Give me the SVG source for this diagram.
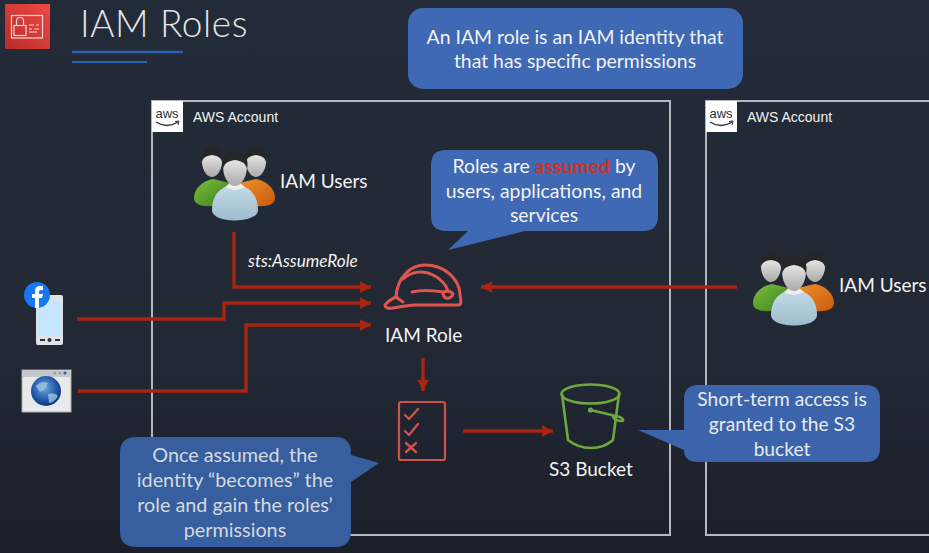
<svg xmlns="http://www.w3.org/2000/svg" xmlns:xlink="http://www.w3.org/1999/xlink" width="929" height="553" viewBox="0 0 929 553">
<style>
text{font-family:"Lato","Noto Sans","Liberation Sans",sans-serif;fill:#f2f2f2}
.t20{font-size:19px}
.call{font-size:19.400px;text-anchor:middle}
.acct{font-family:"Liberation Sans",Arial,sans-serif;font-size:14px}
.box{fill:none;stroke:#b4b8bd;stroke-width:2}
.bub{fill:#3f69b4}
.con{fill:none;stroke:#a92511;stroke-width:3.4}
.red{fill:none;stroke:#e0564f;stroke-width:3;stroke-linecap:round;stroke-linejoin:round}
.red2{fill:none;stroke:#d1504a;stroke-width:2.400;stroke-linecap:round;stroke-linejoin:round}
.grn{fill:none;stroke:#6fa73f;stroke-width:2.600;stroke-linecap:round;stroke-linejoin:round}
</style>
<defs>
<linearGradient id="bg" x1="0" y1="0" x2="0" y2="1"><stop offset="0" stop-color="#232b38"/><stop offset=".6" stop-color="#222935"/><stop offset="1" stop-color="#1b1f2a"/></linearGradient>
<linearGradient id="icon" x1="0" y1="1" x2="1" y2="0"><stop offset="0" stop-color="#b92b27"/><stop offset="1" stop-color="#ee4a45"/></linearGradient>
<linearGradient id="g" x1="0" y1="0" x2="1" y2="1"><stop offset="0" stop-color="#7fbf3a"/><stop offset="1" stop-color="#35801f"/></linearGradient>
<linearGradient id="o" x1="0" y1="0" x2="1" y2="1"><stop offset="0" stop-color="#f0902a"/><stop offset="1" stop-color="#c9590f"/></linearGradient>
<linearGradient id="b" x1="0" y1="0" x2="0" y2="1"><stop offset="0" stop-color="#c4dbe6"/><stop offset="1" stop-color="#9dbccd"/></linearGradient>
<linearGradient id="f" x1="0" y1="0" x2="0" y2="1"><stop offset="0" stop-color="#f6f6f6"/><stop offset="1" stop-color="#a9a9a9"/></linearGradient>
<radialGradient id="globe" cx=".45" cy=".4" r=".6"><stop offset="0" stop-color="#6fa6e0"/><stop offset=".7" stop-color="#1f55a8"/><stop offset="1" stop-color="#0f3478"/></radialGradient>
<marker id="arr" markerWidth="3.400" markerHeight="3.400" refX="3.900" refY="2" orient="auto" markerUnits="strokeWidth" viewBox="0 0 4 4"><path d="M0 0L4 2L0 4Z" fill="#a92511"/></marker>
<g id="aws">
<rect x="0" y="0" width="31" height="31" fill="#fff"/>
<text x="15" y="17" text-anchor="middle" style="font-family:'Liberation Sans',sans-serif;font-size:13px;fill:#232f3e">aws</text>
<path d="M4 21Q15 28 26 21" fill="none" stroke="#232f3e" stroke-width="1.300"/>
<path d="M23 20.500L27 20L26 24" fill="none" stroke="#232f3e" stroke-width="1"/>
</g>
<g id="person">
<path d="M-12 -12C-13 -23 -7 -27 0 -27C7 -27 13 -23 12 -12C11 0 5 6 0 6C-5 6 -11 0 -12 -12Z" fill="url(#f)"/>
<path d="M-12 -11C-15 -23 -7 -29 0 -29C7 -29 15 -23 12 -11C11 -16 8 -19 0 -20C-8 -19 -11 -16 -12 -11Z" fill="#262626"/>
</g>
<g id="users">
<path d="M-41 15C-41 6 -33 -2 -22 -4L-5 0L-5 20C-20 24 -41 26 -41 15Z" fill="url(#g)"/>
<path d="M40 15C40 6 32 -2 21 -4L4 0L4 20C19 24 40 26 40 15Z" fill="url(#o)"/>
<use xlink:href="#person" transform="translate(-23 -11) scale(.85)"/>
<use xlink:href="#person" transform="translate(21 -11) scale(.85)"/>
<path d="M-23 27C-23 10 -12 2 0 2C12 2 23 10 23 27C23 41 -23 41 -23 27Z" fill="url(#b)"/>
<path d="M-10 4Q0 10 10 4L5 0L-5 0Z" fill="#eee"/>
<use xlink:href="#person" transform="translate(0 -3)"/>
</g>
</defs>
<rect width="929" height="553" fill="url(#bg)"/>

<g id="title">
<rect x="5" y="4" width="45" height="45" fill="url(#icon)"/>
<g fill="none" stroke="#f6d5d3" stroke-width="1.200">
<rect x="11.500" y="15.500" width="31" height="22.500"/>
<rect x="14" y="25.500" width="12" height="10"/>
<path d="M16.500 25.500V21A3.500 3.500 0 0 1 23.500 21V25.500"/>
<path d="M29 25H34M36 25H39M29 29H32M34 29H39M29 32H37"/>
</g>
<text x="80" y="37" style="font-size:37px;font-weight:300;letter-spacing:.6px;fill:#e3e5e7">IAM Roles</text>
<line x1="72" y1="52" x2="183" y2="52" stroke="#2a62b4" stroke-width="2.600"/>
<line x1="72" y1="62" x2="147" y2="62" stroke="#2a62b4" stroke-width="1.800"/>
</g>

<g id="account-left">
<rect class="box" x="152" y="101" width="518" height="434"/>
<use xlink:href="#aws" x="152" y="101"/>
<text class="acct" x="193" y="122">AWS Account</text>
</g>
<g id="account-right">
<path class="box" d="M929 101H706V535H929"/>
<use xlink:href="#aws" x="706" y="101"/>
<text class="acct" x="747" y="122">AWS Account</text>
</g>

<g id="connectors">
<path class="con" marker-end="url(#arr)" d="M234 232V287H371"/>
<path class="con" marker-end="url(#arr)" d="M77 319H224V303H371"/>
<path class="con" marker-end="url(#arr)" d="M78 391H246V325H371"/>
<path class="con" marker-end="url(#arr)" d="M737 287H481"/>
<path class="con" marker-end="url(#arr)" d="M423 358V391"/>
<path class="con" marker-end="url(#arr)" d="M463 431H553"/>
</g>
<text x="248" y="267" style="font-size:17.200px;font-style:italic">sts:AssumeRole</text>

<g id="users-left">
<use xlink:href="#users" x="235" y="183"/>
<text class="t20" x="280" y="188">IAM Users</text>
</g>
<g id="users-right">
<use xlink:href="#users" x="794" y="288"/>
<text class="t20" x="839" y="292">IAM Users</text>
</g>

<g id="app-mobile">
<rect x="36" y="295" width="27" height="50" rx="2" fill="#dfe3e6"/>
<rect x="37" y="302" width="25" height="33" fill="#c6e6fb"/>
<rect x="40" y="339" width="5" height="2" fill="#333"/><rect x="55" y="339" width="5" height="2" fill="#333"/><circle cx="49.500" cy="340" r="2" fill="#333"/>
<circle cx="37" cy="295" r="13" fill="#1877f2"/>
<path d="M35 308V298H32V294H35V291Q35 286 40 286H43V290H41Q39 290 39 292V294H43L42 298H39V308Z" fill="#fff"/>
</g>
<g id="app-web">
<rect x="22" y="370" width="49" height="42" fill="#e8e9ea" stroke="#aaa" stroke-width="1"/>
<rect x="22" y="370" width="49" height="7" fill="#c5c8ca"/>
<circle cx="55" cy="373" r="1.600" fill="#8da3b8"/><circle cx="60" cy="373" r="1.600" fill="#8da3b8"/><circle cx="65" cy="373" r="1.600" fill="#2e5fa8"/>
<circle cx="46" cy="391" r="15" fill="url(#globe)"/>
<path d="M36 386Q42 380 48 383Q46 390 40 392Z M48 394Q55 392 58 396Q54 403 49 403Z" fill="#a8c8dc" opacity=".75"/>
</g>

<g id="iam-role">
<path class="red" d="M385 305Q389 300 396 297C397 277 411 265 425 265C445 265 459 279 460 294L461 302Q461 305 457 305L414 305Q403 306 393 308Q385 309 385 305Z"/>
<path class="red" d="M396 297L403 302M403 279C412 271 424 270 433 275C441 279 446 285 448 291M412 292Q425 289 443 292M443 292Q450 290 453 294Q451 299 446 298Q443 297 443 292"/>
<text class="t20" x="385" y="342">IAM Role</text>
</g>
<g id="permissions">
<rect x="399" y="402" width="46" height="58" rx="2" fill="none" stroke="#d1504a" stroke-width="2.200"/>
<path class="red2" d="M405 415L409 419L418 409M405 431L409 435L418 424M406 443L416 452M416 443L406 452"/>
</g>
<g id="s3-bucket">
<ellipse class="grn" cx="590.500" cy="394" rx="29" ry="9.500"/>
<path class="grn" d="M562 394L568 440Q578 448 591 448Q604 448 613 440L619 394"/>
<circle cx="590.500" cy="410" r="2.600" fill="#6fa73f"/>
<path class="grn" d="M590.500 410L620 417Q625 420 622 421Q615 421 613 417"/>
<text class="t20" x="549" y="476">S3 Bucket</text>
</g>

<g id="note-iam-role">
<rect class="bub" x="408" y="8" width="335" height="81" rx="15"/>
<text class="call" x="575" y="44">An IAM role is an IAM identity that</text>
<text class="call" x="575" y="68">that has specific permissions</text>
</g>
<g id="note-assumed">
<path class="bub" d="M446 150H643Q658 150 658 165V216Q658 231 643 231H525L448 250L468 231H446Q431 231 431 216V165Q431 150 446 150Z"/>
<text class="call" x="544" y="173">Roles are <tspan fill="#d2301f" font-weight="700">assumed</tspan> by</text>
<text class="call" x="544" y="198">users, applications, and</text>
<text class="call" x="544" y="222">services</text>
</g>
<g id="note-once-assumed">
<path class="bub" d="M136 437H335Q351 437 351 453V455L379 463L351 482V531Q351 547 335 547H136Q120 547 120 531V453Q120 437 136 437Z" style="fill:#375f9f"/>
<text class="call" x="235" y="462" style="fill:#d5d9de;font-size:19.800px">Once assumed, the</text>
<text class="call" x="235" y="487" style="fill:#d5d9de;font-size:19.800px">identity “becomes” the</text>
<text class="call" x="235" y="512" style="fill:#d5d9de;font-size:19.800px">role and gain the roles’</text>
<text class="call" x="235" y="537" style="fill:#d5d9de;font-size:19.800px">permissions</text>
</g>
<g id="note-short-term">
<path class="bub" d="M698 385H866Q880 385 880 399V448Q880 462 866 462H698Q684 462 684 450L638 430H684V399Q684 385 698 385Z" style="fill:#3c64ab"/>
<text class="call" x="782" y="406" style="fill:#e8eaed;font-size:19.200px">Short-term access is</text>
<text class="call" x="782" y="431" style="fill:#e8eaed;font-size:19.200px">granted to the S3</text>
<text class="call" x="782" y="456" style="fill:#e8eaed;font-size:19.200px">bucket</text>
</g>
</svg>
